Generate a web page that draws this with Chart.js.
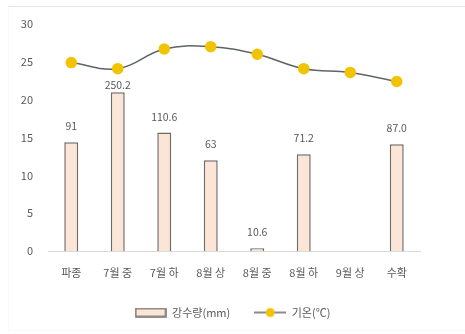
<!DOCTYPE html>
<html>
<head>
<meta charset="utf-8">
<script src="https://cdn.jsdelivr.net/npm/chart.js@4/dist/chart.umd.min.js"></script>
<style>
  html, body { margin: 0; padding: 0; background: #fff; }
  #wrap { width: 465px; height: 334px; }
</style>
</head>
<body>
<div id="wrap"><canvas id="weatherChart" width="465" height="334"></canvas></div>
<script>
const stages = ["파종", "7월 중", "7월 하", "8월 상", "8월 중", "8월 하", "9월 상", "수확"];
// 강수량 (mm), 9월 상은 자료 없음
const rainfall = [91, 250.2, 110.6, 63, 10.6, 71.2, null, 87.0];
const rainDecimals = [0, 1, 1, 0, 1, 1, 0, 1];
// 기온 (℃)
const temperature = [24.9, 24.1, 26.7, 27.0, 26.0, 24.1, 23.6, 22.4];
const tempTicks = [0, 5, 10, 15, 20, 25, 30];

const textColor = "#595959";
const barFill = "#FBE5D6";
const barLine = "#6f6a66";
const lineColor = "#5f6468";
const dotColor = "#F2C300";
const font = "'Noto Sans CJK KR', 'Noto Sans', sans-serif";

// 범례 아이콘
function makeBarIcon() {
  const c = document.createElement("canvas");
  c.width = 32; c.height = 10;
  const g = c.getContext("2d");
  g.fillStyle = barFill;
  g.fillRect(1, 1, 30, 8);
  g.strokeStyle = barLine;
  g.lineWidth = 1.5;
  g.strokeRect(1, 1, 30, 8);
  return c;
}
function makeLineIcon() {
  const c = document.createElement("canvas");
  c.width = 32; c.height = 12;
  const g = c.getContext("2d");
  g.strokeStyle = lineColor;
  g.lineWidth = 1.5;
  g.beginPath(); g.moveTo(0, 6); g.lineTo(32, 6); g.stroke();
  g.fillStyle = dotColor;
  g.beginPath(); g.arc(16, 6, 4.5, 0, Math.PI * 2); g.fill();
  return c;
}
const legendIcons = [makeBarIcon(), makeLineIcon()];

// 바깥 테두리
const frame = {
  id: "frame",
  beforeDraw(chart) {
    const c = chart.ctx;
    c.save();
    c.fillStyle = "#fff";
    c.fillRect(0, 0, chart.width, chart.height);
    c.strokeStyle = "#e6e6e6";
    c.lineWidth = 1;
    c.beginPath(); c.moveTo(8, 6.5); c.lineTo(chart.width, 6.5); c.stroke();
    c.setLineDash([1, 2]);
    c.strokeStyle = "#ececec";
    c.beginPath(); c.moveTo(8.5, 6.5); c.lineTo(8.5, 330.5); c.lineTo(chart.width, 330.5); c.stroke();
    c.restore();
  },
};

// 막대 위 강수량 값
const barValues = {
  id: "barValues",
  afterDatasetsDraw(chart) {
    const c = chart.ctx;
    const bars = chart.getDatasetMeta(0).data;
    const dots = chart.getDatasetMeta(1).data;
    c.save();
    c.font = "10.5px " + font;
    c.fillStyle = textColor;
    c.textAlign = "center";
    c.textBaseline = "middle";
    bars.forEach((bar, i) => {
      const v = rainfall[i];
      if (v == null) return;
      let y = bar.y - 16;
      // 꺾은선과 겹치면 막대에 붙여서 표시
      if (dots[i] && y < dots[i].y + 18) y = bar.y - 7;
      c.fillText(v.toFixed(rainDecimals[i]), bar.x, y);
    });
    c.restore();
  },
};

new Chart(document.getElementById("weatherChart").getContext("2d"), {
  data: {
    labels: stages,
    datasets: [
      {
        type: "bar",
        label: "강수량(mm)",
        data: rainfall,
        yAxisID: "rain",
        backgroundColor: barFill,
        borderColor: barLine,
        borderWidth: 1.5,
        barPercentage: 0.3,
        categoryPercentage: 1,
        order: 2,
      },
      {
        type: "line",
        label: "기온(℃)",
        data: temperature,
        yAxisID: "y",
        borderColor: lineColor,
        borderWidth: 1.5,
        tension: 0.4,
        pointRadius: 5,
        pointBackgroundColor: dotColor,
        pointBorderColor: dotColor,
        order: 1,
      },
    ],
  },
  options: {
    responsive: false,
    animation: false,
    layout: { padding: { top: 24, right: 0, left: 0, bottom: 6 } },
    plugins: {
      tooltip: { enabled: false },
      legend: {
        position: "bottom",
        labels: {
          usePointStyle: true,
          pointStyleWidth: 32,
          padding: 24,
          color: textColor,
          font: { family: font, size: 11 },
          generateLabels(chart) {
            return chart.data.datasets.map((ds, i) => ({
              text: ds.label,
              pointStyle: legendIcons[i],
              fontColor: textColor,
              datasetIndex: i,
              lineWidth: 0,
            }));
          },
        },
      },
    },
    scales: {
      x: {
        grid: { display: false },
        border: { color: "#d9d9d9" },
        ticks: { color: textColor, padding: 7, font: { family: font, size: 11 } },
        afterFit(scale) { scale.height = 32; },
      },
      y: {
        min: 0,
        max: 30,
        afterBuildTicks(scale) { scale.ticks = tempTicks.map((v) => ({ value: v })); },
        grid: { display: false },
        border: { display: false },
        ticks: { color: textColor, padding: 7, font: { family: font, size: 11 } },
        afterFit(scale) { scale.width = 48; },
      },
      // 강수량은 보이지 않는 로그 축
      rain: {
        type: "logarithmic",
        min: 10,
        max: 1000,
        position: "right",
        grid: { display: false },
        border: { display: false },
        ticks: { display: false },
        afterFit(scale) { scale.width = 45; },
      },
    },
  },
  plugins: [frame, barValues],
});
</script>
</body>
</html>
